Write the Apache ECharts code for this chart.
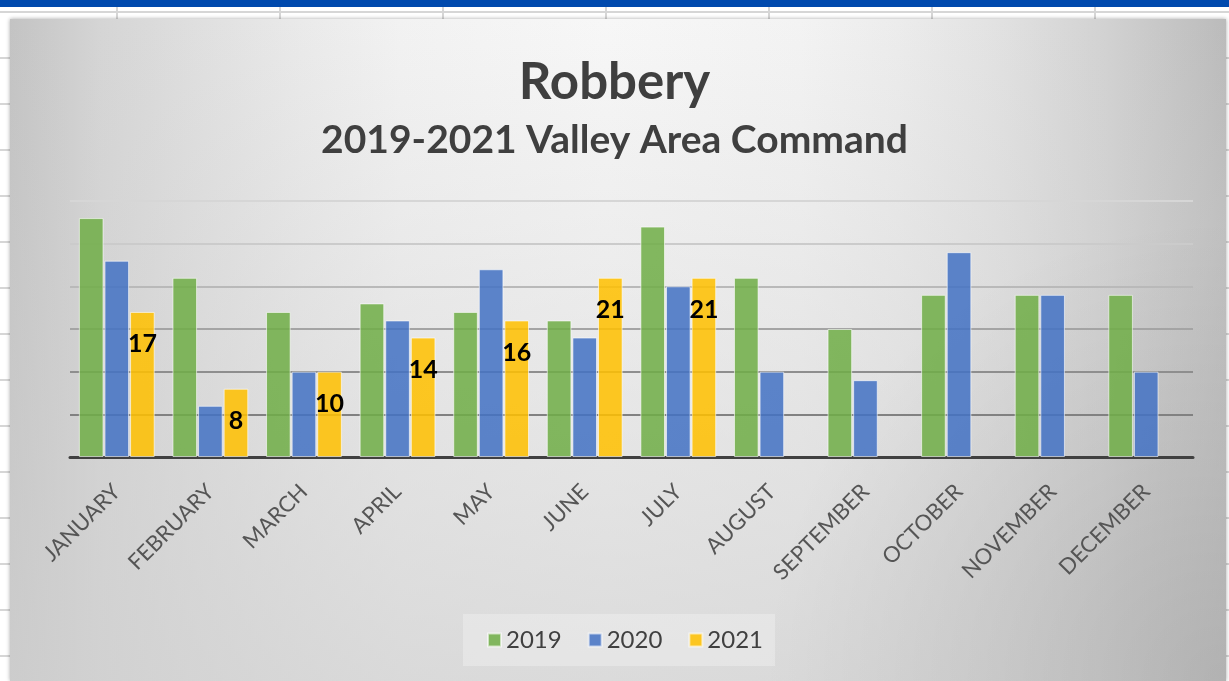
<!DOCTYPE html>
<html>
<head>
<meta charset="utf-8">
<title>Robbery 2019-2021 Valley Area Command</title>
<script src="https://cdn.jsdelivr.net/npm/echarts@6/dist/echarts.min.js"></script>
<style>
  html, body { margin: 0; padding: 0; background: #fff; }
  #chart { width: 1229px; height: 681px; }
</style>
</head>
<body>
<div id="chart"></div>
<script>
const months = ['JANUARY', 'FEBRUARY', 'MARCH', 'APRIL', 'MAY', 'JUNE', 'JULY',
  'AUGUST', 'SEPTEMBER', 'OCTOBER', 'NOVEMBER', 'DECEMBER']
const years = ['2019', '2020', '2021']
const robbery2019 = [28, 21, 17, 18, 17, 16, 27, 21, 15, 19, 19, 19]
const robbery2020 = [23, 6, 10, 16, 22, 14, 20, 10, 9, 24, 19, 10]
const robbery2021 = [17, 8, 10, 14, 16, 21, 21, null, null, null, null, null]
const yMin = 0
const yMax = 30
const yStep = 5

const FONT = 'Lato, "Open Sans", sans-serif'

// spreadsheet behind the chart object
const sheetLines = []
for (let y = 12; y < 681; y += 46) {
  sheetLines.push({
    type: 'line', z: -20,
    shape: { x1: 0, y1: y, x2: 1229, y2: y },
    style: { stroke: '#d6d6d6', lineWidth: 2 },
  })
}
for (let x = 117; x < 1229; x += 163) {
  sheetLines.push({
    type: 'line', z: -20,
    shape: { x1: x, y1: 7, x2: x, y2: 681 },
    style: { stroke: '#d6d6d6', lineWidth: 2 },
  })
}

const chartArea = { x: 10, y: 19, width: 1216, height: 662 }

const background = [
  ...sheetLines,
  {
    type: 'rect', z: -20,
    shape: { x: 0, y: 0, width: 1229, height: 7 },
    style: { fill: '#0049ad' },
  },
  {
    type: 'rect', z: -15,
    shape: chartArea,
    style: {
      fill: new echarts.graphic.LinearGradient(0, 0, 1, 0, [
        { offset: 0, color: '#c3c3c3' },
        { offset: 0.075, color: '#d5d5d5' },
        { offset: 0.16, color: '#e0e0e0' },
        { offset: 0.24, color: '#eaeaea' },
        { offset: 0.32, color: '#f2f2f2' },
        { offset: 0.49, color: '#f7f7f7' },
        { offset: 0.65, color: '#f3f3f3' },
        { offset: 0.73, color: '#ececec' },
        { offset: 0.81, color: '#e2e2e2' },
        { offset: 0.9, color: '#d2d2d2' },
        { offset: 1, color: '#bbbbbb' },
      ]),
      shadowBlur: 4,
      shadowColor: 'rgba(0,0,0,0.35)',
    },
  },
  {
    type: 'rect', z: -14,
    shape: chartArea,
    style: {
      fill: new echarts.graphic.LinearGradient(0, 0, 0, 1, [
        { offset: 0, color: 'rgba(208,208,208,0)' },
        { offset: 1, color: 'rgba(208,208,208,0.72)' },
      ]),
    },
  },
  {
    type: 'rect', z: -13,
    shape: chartArea,
    style: {
      fill: new echarts.graphic.RadialGradient(1, 1, 0.7, [
        { offset: 0, color: 'rgba(0,0,0,0.12)' },
        { offset: 1, color: 'rgba(0,0,0,0)' },
      ]),
    },
  },
]

const colors = ['rgba(112,173,71,0.86)', 'rgba(68,114,196,0.86)', 'rgba(255,192,0,0.86)']

const barBase = {
  type: 'bar',
  barGap: '4%',
  barCategoryGap: '19%',
  itemStyle: { borderColor: 'rgba(255,255,255,0.6)', borderWidth: 1 },
}

const chart = echarts.init(document.getElementById('chart'))
chart.setOption({
  backgroundColor: '#ffffff',
  animation: false,
  color: colors,
  graphic: background,
  title: [
    {
      text: 'Robbery',
      left: 'center',
      top: 52,
      textStyle: { fontFamily: FONT, fontSize: 51, fontWeight: 'bold', color: '#3f3f3f' },
    },
    {
      text: '2019-2021 Valley Area Command',
      left: 'center',
      top: 116,
      textStyle: { fontFamily: FONT, fontSize: 39, fontWeight: 'bold', color: '#3f3f3f' },
    },
  ],
  legend: {
    data: years,
    left: 463,
    top: 614,
    padding: [14, 12, 14, 24],
    itemWidth: 13,
    itemHeight: 13,
    itemGap: 26,
    icon: 'rect',
    backgroundColor: 'rgba(255,255,255,0.28)',
    textStyle: { fontFamily: FONT, fontSize: 24, color: '#404040' },
  },
  grid: {
    left: 70,
    right: 36,
    top: 201,
    bottom: 224,
  },
  xAxis: {
    type: 'category',
    data: months,
    axisTick: { show: false },
    axisLine: { lineStyle: { color: '#404040', width: 3 } },
    axisLabel: {
      interval: 0,
      rotate: 45,
      margin: 31,
      fontFamily: FONT,
      fontSize: 22,
      color: '#555555',
    },
  },
  yAxis: {
    type: 'value',
    min: yMin,
    max: yMax,
    interval: yStep,
    axisLabel: { show: false },
    axisLine: { show: false },
    axisTick: { show: false },
    splitLine: {
      lineStyle: {
        width: 2,
        color: ['#404040', '#818181', '#8e8e8e', '#a4a4a4', '#b9b9b9', '#cbcbcb', '#d6d6d6'],
      },
    },
  },
  series: [
    { ...barBase, name: years[0], data: robbery2019 },
    { ...barBase, name: years[1], data: robbery2020 },
    {
      ...barBase,
      name: years[2],
      data: robbery2021,
      label: {
        show: true,
        position: 'insideTop',
        distance: 20,
        fontFamily: FONT,
        fontSize: 25,
        fontWeight: 'bold',
        color: '#000',
      },
    },
  ],
})
</script>
</body>
</html>
